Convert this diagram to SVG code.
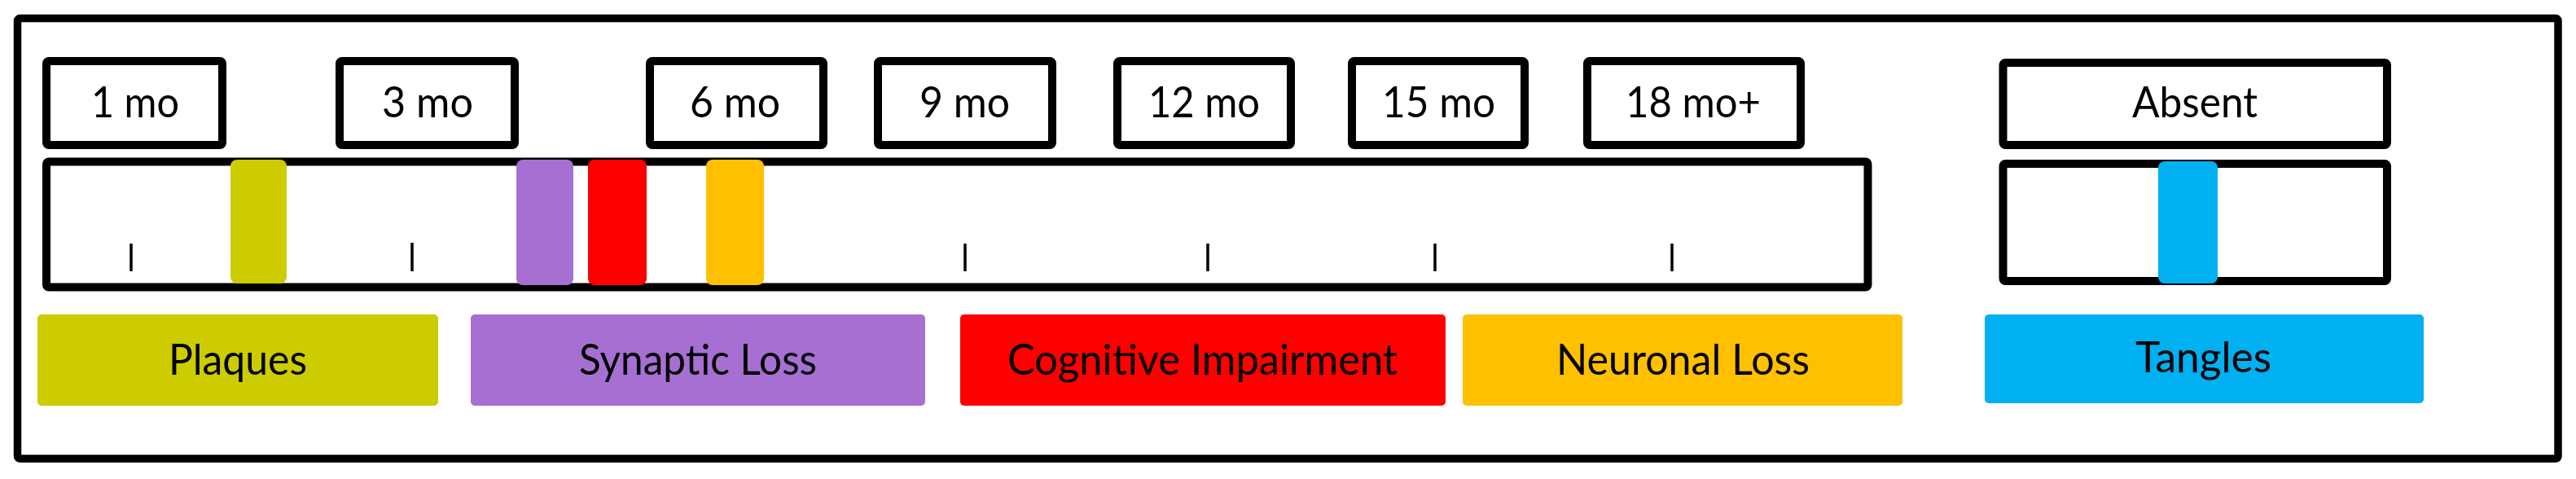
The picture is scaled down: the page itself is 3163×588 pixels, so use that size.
<svg xmlns="http://www.w3.org/2000/svg" width="3163" height="588" viewBox="0 0 3163 588">
<style>
.frame{fill:#fff;stroke:#000;stroke-width:9.5}
.box{fill:#fff;stroke:#000;stroke-width:10}
.t{font-family:Lato,"Open Sans",sans-serif;font-size:53px;fill:#000}
.tick{stroke:#000;stroke-width:3.5}
.plq{fill:#CCCC00}
.syn{fill:#A66FD1}
.cog{fill:#FF0000}
.neu{fill:#FFC000}
.tan{fill:#00B0F0}
</style>
<rect width="3163" height="588" fill="#fff"/>
<rect id="frame" class="frame" x="21.5" y="22.5" width="3119.5" height="540.5" rx="3"/>
<g id="m1"><rect class="box" x="57" y="75" width="216" height="103" rx="3"/><text class="t" x="112" y="144" textLength="108" lengthAdjust="spacingAndGlyphs">1 mo</text></g>
<g id="m3"><rect class="box" x="417" y="75" width="215" height="103" rx="3"/><text class="t" x="469" y="144" textLength="112" lengthAdjust="spacingAndGlyphs">3 mo</text></g>
<g id="m6"><rect class="box" x="798" y="75" width="213" height="103" rx="3"/><text class="t" x="847" y="144" textLength="111" lengthAdjust="spacingAndGlyphs">6 mo</text></g>
<g id="m9"><rect class="box" x="1078" y="75" width="214" height="103" rx="3"/><text class="t" x="1129" y="144" textLength="111" lengthAdjust="spacingAndGlyphs">9 mo</text></g>
<g id="m12"><rect class="box" x="1372" y="75" width="213" height="103" rx="3"/><text class="t" x="1410" y="144" textLength="137" lengthAdjust="spacingAndGlyphs">12 mo</text></g>
<g id="m15"><rect class="box" x="1660" y="75" width="212" height="103" rx="3"/><text class="t" x="1697" y="144" textLength="139" lengthAdjust="spacingAndGlyphs">15 mo</text></g>
<g id="m18"><rect class="box" x="1949" y="75" width="262" height="103" rx="3"/><text class="t" x="1996" y="144" textLength="166" lengthAdjust="spacingAndGlyphs">18 mo+</text></g>
<g id="absent"><rect class="box" x="2459.5" y="77" width="471.5" height="101" rx="3"/><text class="t" x="2618" y="144" textLength="154" lengthAdjust="spacingAndGlyphs">Absent</text></g>
<g id="timeline"><rect class="box" x="57" y="198.5" width="2236.5" height="154" rx="3"/></g>
<g id="tangles-track"><rect class="box" x="2459.5" y="201" width="471.5" height="144" rx="3"/></g>
<g id="ticks">
<line class="tick" x1="161" y1="299" x2="161" y2="333"/>
<line class="tick" x1="506" y1="298" x2="506" y2="333"/>
<line class="tick" x1="1185" y1="299" x2="1185" y2="333"/>
<line class="tick" x1="1483" y1="299" x2="1483" y2="333"/>
<line class="tick" x1="1762" y1="299" x2="1762" y2="333"/>
<line class="tick" x1="2053" y1="299" x2="2053" y2="333"/>
</g>
<g id="bar-plaques"><rect class="plq" x="283" y="196" width="69" height="152" rx="8"/></g>
<g id="bar-synaptic"><rect class="syn" x="634" y="196" width="70" height="154" rx="8"/></g>
<g id="bar-cognitive"><rect class="cog" x="722" y="196" width="72" height="154" rx="8"/></g>
<g id="bar-neuronal"><rect class="neu" x="867" y="196" width="71" height="154" rx="8"/></g>
<g id="bar-tangles"><rect class="tan" x="2650" y="198" width="73" height="150" rx="8"/></g>
<g id="leg-plaques"><rect class="plq" x="46" y="386" width="492" height="112" rx="5"/><text class="t" x="207" y="460" textLength="170" lengthAdjust="spacingAndGlyphs">Plaques</text></g>
<g id="leg-synaptic"><rect class="syn" x="578" y="386" width="558" height="112" rx="5"/><text class="t" x="711" y="460" textLength="292" lengthAdjust="spacingAndGlyphs">Synaptic Loss</text></g>
<g id="leg-cognitive"><rect class="cog" x="1179" y="386" width="596" height="112" rx="5"/><text class="t" x="1237" y="460" textLength="479" lengthAdjust="spacingAndGlyphs">Cognitive Impairment</text></g>
<g id="leg-neuronal"><rect class="neu" x="1796" y="386" width="540" height="112" rx="5"/><text class="t" x="1911" y="460" textLength="311" lengthAdjust="spacingAndGlyphs">Neuronal Loss</text></g>
<g id="leg-tangles"><rect class="tan" x="2437" y="386" width="539" height="109" rx="5"/><text class="t" x="2622" y="457" textLength="167" lengthAdjust="spacingAndGlyphs">Tangles</text></g>
</svg>
